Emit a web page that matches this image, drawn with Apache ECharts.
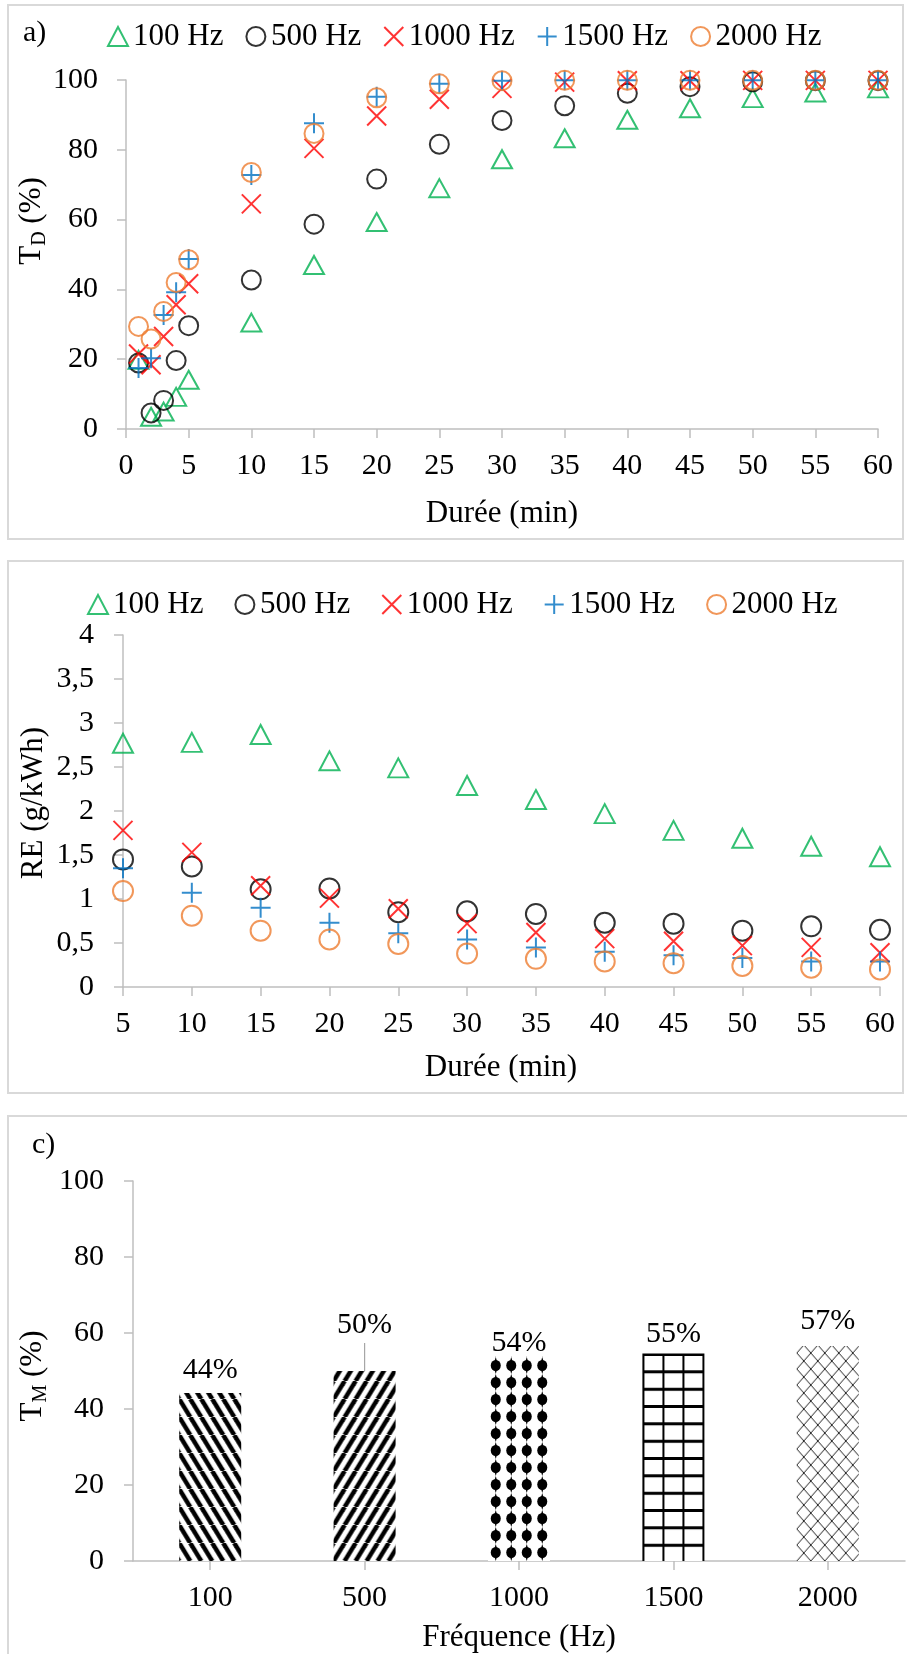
<!DOCTYPE html>
<html>
<head>
<meta charset="utf-8">
<script src="https://cdn.jsdelivr.net/npm/echarts@6/dist/echarts.min.js"></script>
<style>
  html, body { margin: 0; padding: 0; background: #fff; }
  #chart { width: 907px; height: 1654px; }
</style>
</head>
<body>
<div id="chart"></div>
<script>
// a) T_D (%) vs durée
const durA = [1, 2, 3, 4, 5, 10, 15, 20, 25, 30, 35, 40, 45, 50, 55, 60];
const td100 = [19.8, 3.5, 5.0, 9.2, 14.1, 30.5, 47.0, 59.3, 69.0, 77.3, 83.3, 88.6, 91.9, 94.8, 96.4, 97.6];
const td500 = [18.9, 4.6, 8.2, 19.6, 29.6, 42.7, 58.7, 71.6, 81.6, 88.4, 92.6, 96.2, 98.1, 99.5, 99.8, 99.8];
const td1000 = [21.5, 18.4, 26.5, 35.6, 41.6, 64.5, 80.4, 89.7, 94.5, 97.6, 99.4, 99.8, 99.8, 99.9, 99.9, 99.9];
const td1500 = [17.5, 20.3, 32.7, 39.2, 48.7, 72.8, 87.6, 95.2, 98.9, 99.8, 99.9, 99.9, 99.9, 99.9, 99.9, 99.9];
const td2000 = [29.4, 25.8, 33.7, 42.0, 48.5, 73.5, 84.7, 94.9, 98.9, 99.8, 99.9, 99.9, 99.9, 99.9, 99.9, 99.9];

// b) RE (g/kWh) vs durée
const durB = [5, 10, 15, 20, 25, 30, 35, 40, 45, 50, 55, 60];
const re100 = [2.77, 2.78, 2.87, 2.57, 2.49, 2.29, 2.13, 1.97, 1.78, 1.69, 1.60, 1.48];
const re500 = [1.45, 1.37, 1.11, 1.12, 0.85, 0.86, 0.83, 0.73, 0.72, 0.64, 0.69, 0.65];
const re1000 = [1.78, 1.53, 1.15, 1.01, 0.89, 0.72, 0.62, 0.55, 0.52, 0.47, 0.45, 0.39];
const re1500 = [1.35, 1.07, 0.90, 0.73, 0.61, 0.54, 0.45, 0.40, 0.36, 0.33, 0.29, 0.29];
const re2000 = [1.09, 0.81, 0.64, 0.54, 0.49, 0.38, 0.32, 0.29, 0.27, 0.24, 0.22, 0.20];

// c) T_M (%) per frequency
const freqs = ['100', '500', '1000', '1500', '2000'];
const tm = [44.2, 50.0, 53.8, 54.6, 56.6];

const names = ['100 Hz', '500 Hz', '1000 Hz', '1500 Hz', '2000 Hz'];
const colors = ['#00B050', '#000000', '#FF0000', '#0070C0', '#ED7D31'];
const symbols = ['triangle', 'circle', 'path://M0,0L10,10M10,0L0,10', 'path://M5,0L5,10M0,5L10,5', 'circle'];
const sizesA = [[20, 18], 19, 19, 20, 19];
const sizesB = [[20, 19], 20, 19, 20, 20];
const labelShift = [-3, -26, 7, 1, -5];

const FONT = 'Liberation Serif';
const GREY = '#bfbfbf';

function valAxis(grid, min, max, step, margin, fmt) {
  return {
    type: 'value', gridIndex: grid, min: min, max: max, interval: step,
    axisLine: { show: true, lineStyle: { color: GREY, width: 1.5 } },
    axisTick: { show: true, length: 9, lineStyle: { color: GREY, width: 1.5 } },
    axisLabel: { color: '#000', fontSize: 30, fontFamily: FONT, margin: margin, formatter: fmt },
    splitLine: { show: false }
  };
}

function scatter(i, grid, xs, ys, size) {
  return {
    type: 'scatter', name: names[i], xAxisIndex: grid, yAxisIndex: grid,
    data: xs.map((x, k) => [x, ys[k]]),
    symbol: symbols[i], symbolSize: size,
    itemStyle: { color: 'rgba(0,0,0,0)', borderColor: colors[i], borderWidth: 2 },
    emphasis: { disabled: true }, silent: true
  };
}

function legendAt(left, top, gap) {
  return {
    left: left, top: top, itemGap: gap, itemWidth: 20, itemHeight: 19,
    selectedMode: false,
    textStyle: { fontSize: 31, fontFamily: FONT, color: '#000' },
    data: names.map((n, i) => ({
      name: n, icon: symbols[i],
      itemStyle: { color: 'rgba(0,0,0,0)', borderColor: colors[i], borderWidth: 2 }
    }))
  };
}

// fill patterns for the bars
function tile(w, h, draw) {
  const c = document.createElement('canvas');
  c.width = w; c.height = h;
  const g = c.getContext('2d');
  g.fillStyle = '#fff'; g.fillRect(0, 0, w, h);
  g.strokeStyle = '#000'; g.fillStyle = '#000';
  draw(g, w, h);
  return c;
}
const tiles = [
  tile(11, 18, (g, w, h) => { g.lineWidth = 4.5; [-w, 0, w].forEach(x0 => { g.beginPath(); g.moveTo(x0, 0); g.lineTo(x0 + w, h); g.stroke(); }); }),
  tile(11, 18, (g, w, h) => { g.lineWidth = 4.5; [-w, 0, w].forEach(x0 => { g.beginPath(); g.moveTo(x0, h); g.lineTo(x0 + w, 0); g.stroke(); }); }),
  tile(31, 34, (g) => {
    [[7.75, 8.5], [23.25, 8.5], [7.75, 25.5], [23.25, 25.5]].forEach(p => {
      g.beginPath(); g.ellipse(p[0], p[1], 5, 5.5, 0, 0, Math.PI * 2); g.fill();
      g.beginPath(); g.moveTo(p[0], p[1] - 8.5); g.lineTo(p[0] + 2.5, p[1]); g.lineTo(p[0], p[1] + 8.5); g.lineTo(p[0] - 2.5, p[1]); g.closePath(); g.fill();
    });
  }),
  tile(62, 52, (g) => {
    g.lineWidth = 2;
    [1, 21, 41, 61].forEach(x => { g.beginPath(); g.moveTo(x, 0); g.lineTo(x, 52); g.stroke(); });
    g.lineWidth = 3;
    [1.5, 18.8, 36.2].forEach(y => { g.beginPath(); g.moveTo(0, y); g.lineTo(62, y); g.stroke(); });
  }),
  tile(14, 16, (g, w, h) => {
    g.strokeStyle = '#222';
    g.lineWidth = 1;
    g.beginPath(); g.moveTo(0, 0); g.lineTo(w, h); g.moveTo(w, 0); g.lineTo(0, h); g.stroke();
  })
];

function text(id, x, y, str, extra) {
  return Object.assign({
    type: 'text', id: id, x: x, y: y, silent: true,
    style: { text: str, fontSize: 31, fontFamily: FONT, fill: '#000', align: 'center', verticalAlign: 'middle' }
  }, extra || {});
}
function yTitle(id, x, y, main, sub, rest) {
  return {
    type: 'text', id: id, x: x, y: y, rotation: Math.PI / 2, silent: true,
    style: {
      text: '{t|' + main + '}{s|' + sub + '}{t|' + rest + '}',
      align: 'center', verticalAlign: 'middle', fill: '#000',
      rich: {
        t: { fontSize: 31, fontFamily: FONT, lineHeight: 31, verticalAlign: 'top' },
        s: { fontSize: 20, fontFamily: FONT, lineHeight: 20, verticalAlign: 'top', padding: [13, 0, 0, 0] }
      }
    }
  };
}

function build(pos) {
  const graphics = [
    { type: 'rect', id: 'boxA', shape: { x: 8, y: 5, width: 895, height: 534 }, style: { fill: 'none', stroke: '#d9d9d9', lineWidth: 2 }, silent: true },
    { type: 'rect', id: 'boxB', shape: { x: 8, y: 561, width: 895, height: 532 }, style: { fill: 'none', stroke: '#d9d9d9', lineWidth: 2 }, silent: true },
    { type: 'rect', id: 'boxC', shape: { x: 8, y: 1116, width: 920, height: 560 }, style: { fill: 'none', stroke: '#d9d9d9', lineWidth: 2 }, silent: true },
    text('pa', 23, 33, 'a)', { style: { text: 'a)', fontSize: 30, fontFamily: FONT, fill: '#000', align: 'left', verticalAlign: 'middle' } }),
    text('pc', 32, 1145, 'c)', { style: { text: 'c)', fontSize: 30, fontFamily: FONT, fill: '#000', align: 'left', verticalAlign: 'middle' } }),
    text('xa', 502, 514, 'Durée (min)'),
    text('xb', 501, 1068, 'Durée (min)'),
    text('xc', 519, 1638, 'Fréquence (Hz)'),
    yTitle('ya', 32, 221, 'T', 'D', ' (%)'),
    yTitle('yc', 33, 1376, 'T', 'M', ' (%)'),
    text('yb', 34, 803, 'RE (g/kWh)', { rotation: Math.PI / 2 })
  ];
  if (pos) {
    const p = pos.px[1];
    graphics.push({ type: 'line', id: 'leader', silent: true, shape: { x1: p[0], y1: p[1], x2: p[0], y2: p[1] - 28 }, style: { stroke: '#a6a6a6', lineWidth: 1.2 } });
  }

  const commaFmt = v => String(v).replace('.', ',');

  return {
    animation: false,
    textStyle: { fontFamily: FONT },
    grid: [
      { left: 126, top: 80, width: 752, height: 349, outerBoundsMode: 'none' },
      { left: 123, top: 635, width: 757, height: 352, outerBoundsMode: 'none' },
      { left: 133, top: 1181, width: 772, height: 380, outerBoundsMode: 'none' }
    ],
    legend: [legendAt(102, 16, 22), legendAt(82, 584, 31)],
    xAxis: [
      valAxis(0, 0, 60, 5, 22),
      valAxis(1, 5, 60, 5, 22),
      {
        type: 'category', gridIndex: 2, data: freqs,
        axisLine: { show: true, lineStyle: { color: GREY, width: 1.5 } },
        axisTick: { show: true, alignWithLabel: true, length: 9, lineStyle: { color: GREY, width: 1.5 } },
        axisLabel: { color: '#000', fontSize: 30, fontFamily: FONT, margin: 22 }
      }
    ],
    yAxis: [
      valAxis(0, 0, 100, 20, 28),
      valAxis(1, 0, 4, 0.5, 29, commaFmt),
      valAxis(2, 0, 100, 20, 29)
    ],
    series: [
      scatter(0, 0, durA, td100, sizesA[0]),
      scatter(1, 0, durA, td500, sizesA[1]),
      scatter(2, 0, durA, td1000, sizesA[2]),
      scatter(3, 0, durA, td1500, sizesA[3]),
      scatter(4, 0, durA, td2000, sizesA[4]),
      scatter(0, 1, durB, re100, sizesB[0]),
      scatter(1, 1, durB, re500, sizesB[1]),
      scatter(2, 1, durB, re1000, sizesB[2]),
      scatter(3, 1, durB, re1500, sizesB[3]),
      scatter(4, 1, durB, re2000, sizesB[4]),
      {
        type: 'bar', name: 'TM', xAxisIndex: 2, yAxisIndex: 2, barWidth: 62, silent: true,
        data: tm.map((v, i) => ({
          value: v,
          itemStyle: {
            color: {
              image: tiles[i], repeat: 'repeat',
              x: pos ? pos.px[i][0] - 31 : 0,
              y: pos ? pos.base : 0
            }
          },
          label: { offset: [0, labelShift[i]] }
        })),
        label: {
          show: true, position: 'top', color: '#000', fontSize: 30, fontFamily: FONT,
          formatter: p => Math.round(p.value) + '%'
        }
      }
    ],
    graphic: graphics
  };
}

const chart = echarts.init(document.getElementById('chart'));
chart.setOption(build(null));
const px = freqs.map((f, i) => chart.convertToPixel({ gridIndex: 2 }, [f, tm[i]]));
const base = chart.convertToPixel({ gridIndex: 2 }, [freqs[0], 0])[1];
chart.setOption(build({ px: px, base: base }), true);
</script>
</body>
</html>
